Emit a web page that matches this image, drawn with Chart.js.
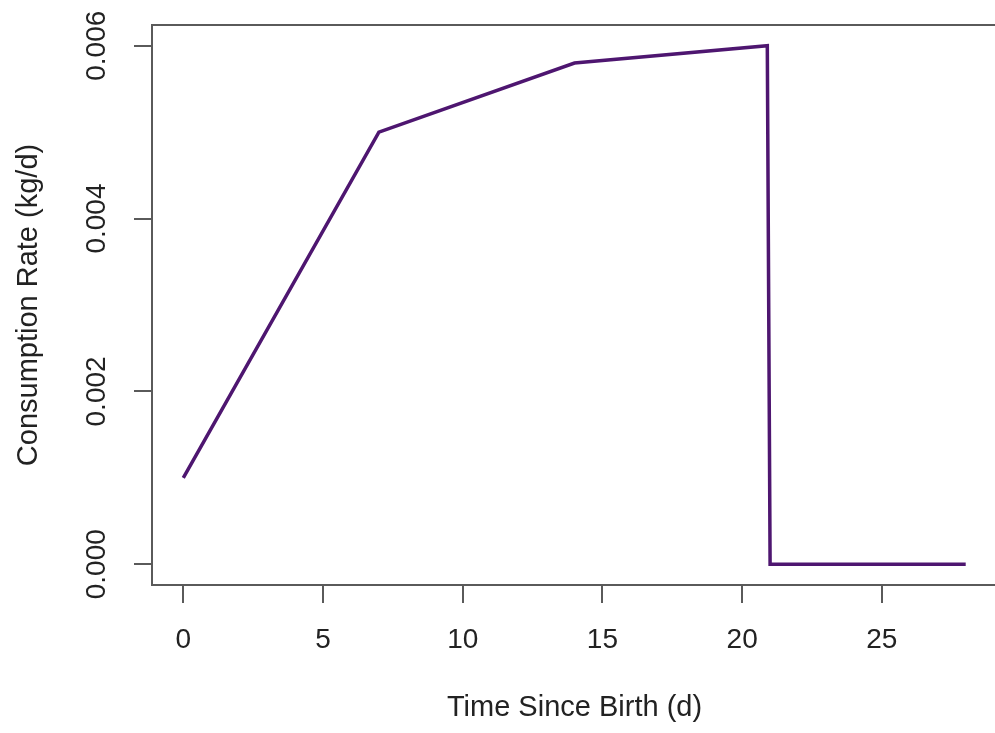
<!DOCTYPE html>
<html>
<head>
<meta charset="utf-8">
<script src="https://cdn.jsdelivr.net/npm/chart.js@4"></script>
<style>
  html, body { margin: 0; padding: 0; background: #fff; overflow: hidden; }
  #wrap { width: 1000px; height: 733px; position: relative; }
</style>
</head>
<body>
<div id="wrap"><canvas id="rate-chart"></canvas></div>
<script>
  // data
  const days = [0, 7, 14, 20.9, 21, 28];
  const rates = [0.001, 0.005, 0.0058, 0.006, 0, 0];
  const xTicks = [0, 5, 10, 15, 20, 25];
  const yTicks = [0, 0.002, 0.004, 0.006];

  const axisColor = '#5a5a5a';
  const textColor = '#222';
  const fontFamily = '"Liberation Sans", Arial, sans-serif';

  // R style box around the plot region
  const boxPlugin = {
    id: 'box',
    afterDraw(chart) {
      const { ctx, chartArea } = chart;
      ctx.save();
      ctx.strokeStyle = axisColor;
      ctx.lineWidth = 2;
      ctx.strokeRect(chartArea.left, chartArea.top, chartArea.right - chartArea.left, chartArea.bottom - chartArea.top);
      ctx.restore();
    }
  };

  const ctx = document.getElementById('rate-chart');
  new Chart(ctx, {
    type: 'line',
    data: {
      datasets: [{
        label: 'Consumption Rate',
        data: days.map((d, i) => ({ x: d, y: rates[i] })),
        borderColor: '#4e1670',
        borderWidth: 3.5,
        pointRadius: 0,
        fill: false,
        tension: 0
      }]
    },
    options: {
      responsive: true,
      maintainAspectRatio: false,
      animation: false,
      layout: { padding: { top: 25, right: 3, left: 0, bottom: 0 } },
      scales: {
        x: {
          type: 'linear',
          min: -1.12,
          max: 29.12,
          afterBuildTicks: (scale) => { scale.ticks = xTicks.map(v => ({ value: v })); },
          afterFit: (scale) => { scale.height = 148; },
          border: { display: false },
          grid: { display: true, drawOnChartArea: false, drawTicks: true, tickLength: 18, color: axisColor, lineWidth: 2 },
          ticks: {
            color: textColor,
            font: { family: fontFamily, size: 28 },
            padding: 20,
            maxRotation: 0,
            autoSkip: false
          },
          title: {
            display: true,
            text: 'Time Since Birth (d)',
            color: textColor,
            font: { family: fontFamily, size: 29 },
            padding: { top: 0, bottom: 8 }
          }
        },
        y: {
          type: 'linear',
          min: -0.00024,
          max: 0.00624,
          afterBuildTicks: (scale) => { scale.ticks = yTicks.map(v => ({ value: v })); },
          afterFit: (scale) => { scale.width = 152; },
          border: { display: false },
          grid: { display: true, drawOnChartArea: false, drawTicks: true, tickLength: 18, color: axisColor, lineWidth: 2 },
          ticks: {
            color: textColor,
            font: { family: fontFamily, size: 28 },
            padding: 2,
            minRotation: 90,
            maxRotation: 90,
            crossAlign: 'center',
            autoSkip: false,
            callback: (v) => Number(v).toFixed(3)
          },
          title: {
            display: true,
            text: 'Consumption Rate (kg/d)',
            color: textColor,
            font: { family: fontFamily, size: 29 },
            padding: { top: 12, bottom: 0 }
          }
        }
      },
      plugins: {
        legend: { display: false },
        tooltip: { enabled: false }
      }
    },
    plugins: [boxPlugin]
  });
</script>
</body>
</html>
